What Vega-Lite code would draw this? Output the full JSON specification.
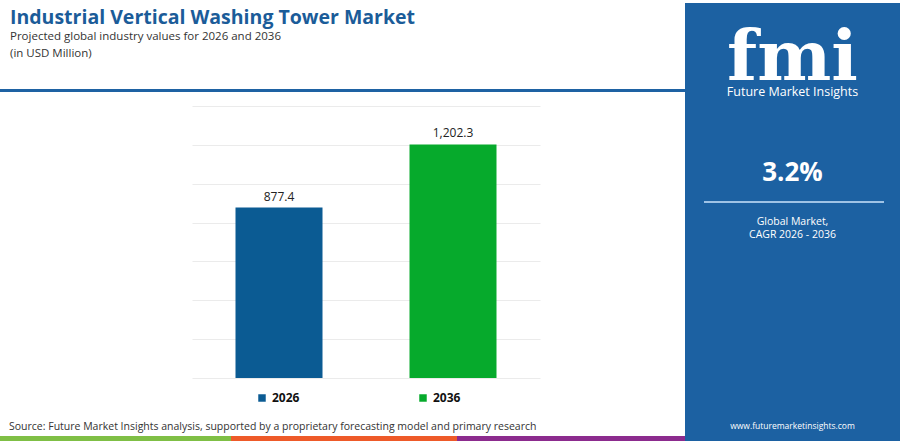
{
  "$schema": "https://vega.github.io/schema/vega-lite/v6.json",
  "background": "white",
  "padding": 0,
  "spacing": 0,
  "hconcat": [
    {
      "spacing": 0,
      "vconcat": [
        {"width": 685, "height": 8, "mark": "text", "data": {"values": []}},
        {
          "width": 685,
          "height": 3,
          "view": {"fill": "#1e62a3"},
          "mark": "text",
          "data": {"values": []},
          "title": {
            "text": "Industrial Vertical Washing Tower Market",
            "subtitle": ["Projected global industry values for 2026 and 2036", "(in USD Million)"],
            "anchor": "start",
            "dx": 10,
            "offset": 29,
            "font": "Open Sans",
            "fontSize": 19.5,
            "fontWeight": "bold",
            "color": "#1b5c99",
            "subtitleFont": "Open Sans",
            "subtitleFontSize": 11.5,
            "subtitleColor": "#333333",
            "subtitleLineHeight": 17,
            "subtitlePadding": 2
          }
        },
        {
          "spacing": 0,
          "hconcat": [
            {"width": 192, "height": 286, "mark": "text", "data": {"values": []}},
            {
              "width": 348,
              "height": 286,
              "data": {
                "values": [
                  {"year": "2026", "value": 877.4},
                  {"year": "2036", "value": 1202.3}
                ]
              },
              "encoding": {
                "x": {
                  "field": "year",
                  "type": "nominal",
                  "axis": null,
                  "scale": {"paddingInner": 0.5, "paddingOuter": 0.25}
                },
                "y": {
                  "field": "value",
                  "type": "quantitative",
                  "scale": {"domain": [0, 1472], "nice": false},
                  "axis": {
                    "values": [0, 200, 400, 600, 800, 1000, 1200, 1400],
                    "labels": false,
                    "ticks": false,
                    "domain": false,
                    "title": null,
                    "grid": true,
                    "gridColor": "#ebebeb"
                  }
                }
              },
              "layer": [
                {
                  "mark": {"type": "bar"},
                  "encoding": {
                    "color": {
                      "field": "year",
                      "type": "nominal",
                      "scale": {"range": ["#0b5b93", "#06aa2c"]},
                      "legend": {
                        "title": null,
                        "orient": "none",
                        "legendX": 256,
                        "legendY": 392,
                        "direction": "horizontal",
                        "padding": 0,
                        "symbolType": "square",
                        "symbolSize": 56,
                        "symbolStrokeWidth": 0,
                        "symbolOpacity": 1,
                        "labelFont": "Open Sans",
                        "labelFontSize": 12,
                        "labelFontWeight": "bold",
                        "labelColor": "#111111",
                        "labelOffset": 4,
                        "columnPadding": 117
                      }
                    }
                  }
                },
                {
                  "mark": {
                    "type": "text",
                    "baseline": "alphabetic",
                    "dy": -7,
                    "fontSize": 12,
                    "color": "#222222"
                  },
                  "encoding": {"text": {"field": "value", "type": "quantitative", "format": ",.1f"}}
                }
              ]
            },
            {"width": 145, "height": 286, "mark": "text", "data": {"values": []}}
          ]
        },
        {"width": 685, "height": 43, "mark": "text", "data": {"values": []}},
        {
          "spacing": 0,
          "title": {
            "text": "Source: Future Market Insights analysis, supported by a proprietary forecasting model and primary research",
            "anchor": "start",
            "dx": 9,
            "offset": 4,
            "font": "Open Sans",
            "fontSize": 10.5,
            "fontWeight": "normal",
            "color": "#333333"
          },
          "hconcat": [
            {"width": 231, "height": 5, "view": {"fill": "#7fbf45"}, "mark": "text", "data": {"values": []}},
            {"width": 226, "height": 5, "view": {"fill": "#ee5a29"}, "mark": "text", "data": {"values": []}},
            {"width": 228, "height": 5, "view": {"fill": "#8c2b8e"}, "mark": "text", "data": {"values": []}}
          ]
        }
      ]
    },
    {
      "spacing": 0,
      "vconcat": [
        {"width": 215, "height": 3, "mark": "text", "data": {"values": []}},
        {
          "width": 215,
          "height": 154,
          "view": {"fill": "#1c61a2"},
          "data": {"values": [{"logo": "fmi", "name": "Future Market Insights"}]},
          "layer": [
            {
              "mark": {"type": "text", "baseline": "alphabetic", "font": "DejaVu Serif", "fontWeight": "bold", "fontSize": 70, "color": "white"},
              "encoding": {"text": {"field": "logo"}}
            },
            {
              "mark": {"type": "text", "baseline": "top", "dy": 6, "fontSize": 12.5, "color": "white"},
              "encoding": {"text": {"field": "name"}}
            }
          ]
        },
        {
          "width": 215,
          "height": 32,
          "view": {"fill": "#1c61a2"},
          "data": {"values": [{"label": "3.2%"}]},
          "mark": {"type": "text", "baseline": "middle", "fontSize": 26, "fontWeight": "bold", "color": "white"},
          "encoding": {"text": {"field": "label"}}
        },
        {
          "spacing": 0,
          "bounds": "flush",
          "hconcat": [
            {"width": 19, "height": 26, "view": {"fill": "#1c61a2"}, "mark": "text", "data": {"values": []}},
            {
              "width": 180,
              "height": 26,
              "view": {"fill": "#1c61a2"},
              "data": {"values": [{"part": "divider"}]},
              "mark": {"type": "rule", "color": "#9fc3e6", "strokeWidth": 2},
              "encoding": {"y": {"field": "part", "type": "nominal", "axis": null}}
            },
            {"width": 16, "height": 26, "view": {"fill": "#1c61a2"}, "mark": "text", "data": {"values": []}}
          ]
        },
        {
          "width": 215,
          "height": 14,
          "view": {"fill": "#1c61a2"},
          "data": {"values": [{"label": "Global Market,"}]},
          "mark": {"type": "text", "baseline": "middle", "fontSize": 10.5, "color": "white"},
          "encoding": {"text": {"field": "label"}}
        },
        {
          "width": 215,
          "height": 12,
          "view": {"fill": "#1c61a2"},
          "data": {"values": [{"label": "CAGR 2026 - 2036"}]},
          "mark": {"type": "text", "baseline": "middle", "fontSize": 10.5, "color": "white"},
          "encoding": {"text": {"field": "label"}}
        },
        {"width": 215, "height": 169, "view": {"fill": "#1c61a2"}, "mark": "text", "data": {"values": []}},
        {
          "width": 215,
          "height": 31,
          "view": {"fill": "#1c61a2"},
          "data": {"values": [{"label": "www.futuremarketinsights.com"}]},
          "mark": {"type": "text", "baseline": "middle", "fontSize": 8.5, "color": "white"},
          "encoding": {"text": {"field": "label"}}
        }
      ]
    }
  ],
  "config": {
    "view": {"stroke": null},
    "concat": {"spacing": 0},
    "font": "Open Sans"
  }
}
